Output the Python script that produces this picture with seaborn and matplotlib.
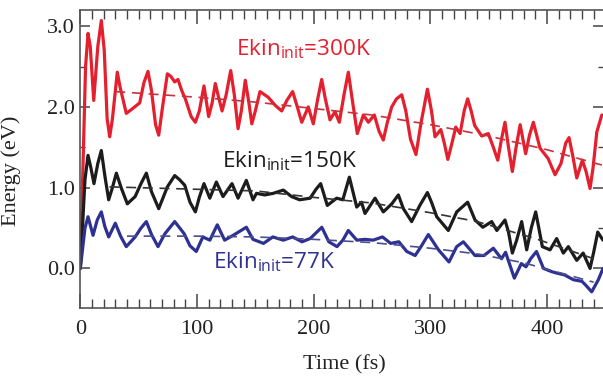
import matplotlib
matplotlib.use("Agg")
import matplotlib.pyplot as plt
import seaborn as sns
from matplotlib.ticker import MultipleLocator, FormatStrFormatter

# energy traces (time in fs, energy in eV)
red_t = [0, 4.5, 6.6, 8.5, 11.5, 15, 18, 20.5, 23, 25.2, 27.5, 31.7, 34, 39.4, 44, 50.9, 54.5,
         58, 61, 64.5, 67.2, 70, 74.6, 77.5, 80.9, 83.7, 87, 90, 95, 98.6, 102, 106, 110, 113,
         115.7, 118.5, 121.5, 125, 128.9, 132, 135.2, 138, 141.4, 144.5, 147, 150, 154, 161,
         167, 172.6, 177, 182, 186, 189.8, 195.4, 199.7, 203.5, 206.9, 210, 214, 218.3, 222,
         226, 229.7, 233.5, 237.4, 242.6, 246.9, 252, 256, 259.7, 263, 266.9, 271, 275.5, 279,
         283, 287.7, 292, 297.5, 301, 304, 309, 312, 315, 318.5, 321.8, 325.5, 329, 332, 335,
         338, 344, 349.7, 354, 357.8, 361, 364, 367, 370.3, 373.5, 377, 381.7, 385, 388.3, 394,
         401, 406.9, 412, 416, 418.9, 422, 425.5, 430.3, 433.5, 436.9, 439.5, 442.7, 447]
red_e = [0, 2.5, 2.91, 2.75, 2.08, 2.75, 3.07, 2.7, 1.85, 1.63, 1.85, 2.43, 2.25, 1.92, 1.97, 2.05, 2.3,
         2.44, 2.2, 1.78, 1.65, 1.95, 2.41, 2.38, 2.31, 2.34, 2.2, 2.1, 1.88, 1.81, 1.95, 2.26, 1.88, 2.05,
         2.29, 2.12, 1.95, 2.15, 2.45, 2.15, 1.73, 1.95, 2.33, 2.05, 1.79, 1.95, 2.19, 2.12,
         2.02, 1.95, 2.08, 2.19, 2.0, 1.81, 2.0, 1.79, 2.1, 2.34, 2.1, 1.84, 1.94, 1.81,
         2.15, 2.43, 2.05, 1.67, 1.9, 1.81, 1.9, 1.7, 1.59, 1.8, 2.0, 2.1, 2.15, 1.95,
         1.6, 1.41, 1.8, 2.22, 1.95, 1.63, 1.72, 1.55, 1.35, 1.55, 1.75, 1.67, 1.95, 2.1, 1.95,
         1.77, 1.64, 1.67, 1.5, 1.34, 1.6, 1.81, 1.5, 1.2, 1.5, 1.78, 1.42, 1.65, 1.81, 1.49,
         1.36, 1.16, 1.3, 1.55, 1.62, 1.4, 1.12, 1.34, 1.2, 0.99, 1.25, 1.69, 1.9]

black_t = [0, 4, 6.6, 9, 11.7, 15, 18, 21, 24.3, 27.5, 30.9, 35, 40.3, 47, 52, 56.6, 61, 67.2,
           74.6, 80.9, 85, 89.5, 94, 98.6, 102, 106, 111, 116.6, 122.3, 130, 135.2, 142.3, 148,
           151, 158, 165.4, 174, 181, 188, 197, 202, 206, 211.7, 219.7, 225, 230.6, 236.9, 241,
           244, 252.6, 259.7, 267, 272.6, 276.9, 284, 291, 297.5, 301, 305.5, 315.4, 322.6, 332,
           338.3, 345, 352.6, 357, 364, 367, 370.3, 374, 378.3, 382.6, 386.5, 390.3, 393, 396,
           402.6, 408.3, 414, 418.3, 425.5, 431, 436.9, 440, 443.5, 448]
black_e = [0, 1.1, 1.40, 1.25, 1.05, 1.3, 1.46, 1.15, 0.85, 1.0, 1.18, 1.0, 0.80, 0.89, 1.05, 1.18, 0.95, 0.74,
           1.01, 1.15, 1.1, 1.03, 0.82, 0.70, 0.88, 1.05, 0.87, 1.07, 0.89, 1.05, 0.87, 1.09, 0.85,
           0.93, 0.91, 0.93, 0.97, 0.89, 0.85, 0.87, 0.98, 1.05, 0.78, 0.87, 0.85, 1.13, 0.76, 0.82,
           0.68, 0.87, 0.70, 0.80, 0.91, 0.74, 0.58, 0.78, 0.94, 0.82, 0.64, 0.47, 0.70, 0.82,
           0.60, 0.51, 0.58, 0.47, 0.60, 0.45, 0.19, 0.35, 0.58, 0.23, 0.5, 0.70, 0.5, 0.27,
           0.23, 0.37, 0.19, 0.27, 0.10, 0.19, 0.0, 0.2, 0.45, 0.35]

blue_t = [0, 4, 6.6, 10.9, 14.5, 18, 21, 24.3, 30, 34.5, 39.4, 47, 52, 56.6, 61, 66.6, 72.5,
          80.9, 89, 94, 99.4, 105, 111, 117.4, 123.7, 131, 142.3, 148, 157, 165, 174, 182, 190,
          197, 207, 213, 220, 225, 229.7, 237, 244, 251, 259, 266, 273, 279.8, 287, 292, 298.3,
          307, 316, 322.6, 328.3, 338.3, 346, 354, 361, 364.5, 368, 372, 378, 382, 386, 391,
          397, 404, 409, 415, 422.6, 430, 434, 438.3, 444, 448]
blue_e = [0, 0.5, 0.64, 0.41, 0.6, 0.70, 0.52, 0.39, 0.56, 0.4, 0.27, 0.39, 0.5, 0.58, 0.42, 0.27, 0.43,
          0.58, 0.43, 0.28, 0.21, 0.39, 0.35, 0.54, 0.35, 0.41, 0.51, 0.36, 0.31, 0.39, 0.35, 0.39, 0.33,
          0.37, 0.51, 0.33, 0.27, 0.35, 0.47, 0.35, 0.36, 0.35, 0.39, 0.31, 0.33, 0.21, 0.16, 0.27, 0.42,
          0.23, 0.08, 0.27, 0.33, 0.16, 0.16, 0.25, 0.12, 0.20, 0.05, -0.12, 0.06, 0.02, 0.12, 0.21,
          0.0, -0.04, -0.06, -0.08, -0.14, -0.16, -0.22, -0.29, -0.14, 0.0]

# dashed trend lines
red_fit_t = [30, 100, 150, 200, 250, 300, 350, 400, 447]
red_fit_e = [2.19, 2.12, 2.06, 1.98, 1.90, 1.78, 1.64, 1.47, 1.28]
black_fit_t = [25, 100, 150, 200, 250, 300, 340, 390, 440]
black_fit_e = [1.01, 0.98, 0.96, 0.88, 0.81, 0.69, 0.58, 0.37, 0.12]
blue_fit_t = [40, 100, 150, 200, 250, 300, 340, 380, 440]
blue_fit_e = [0.40, 0.40, 0.39, 0.36, 0.32, 0.25, 0.18, 0.07, -0.17]

labels = ["300K", "150K", "77K"]

sns.set_style("ticks")
plt.rcParams["font.family"] = ["Liberation Serif", "DejaVu Serif"]
plt.rcParams["mathtext.fontset"] = "custom"
plt.rcParams["mathtext.rm"] = "Open Sans"

red, black, blue = "#e5202e", "#1c1c1c", "#2e3192"

fig = plt.figure(figsize=(6.03, 3.85), dpi=100)
ax = fig.add_axes([0.1332, 0.2, 0.8668, 0.774])

line_kw = dict(lw=2.3, solid_joinstyle="round", solid_capstyle="round", ax=ax)
sns.lineplot(x=red_t, y=red_e, color=red, **line_kw)
sns.lineplot(x=black_t, y=black_e, color=black, **line_kw)
sns.lineplot(x=blue_t, y=blue_e, color=blue, **line_kw)
fit_kw = dict(lw=1.2, ls=(0, (6, 4)), ax=ax)
sns.lineplot(x=red_fit_t, y=red_fit_e, color="#c8323c", **fit_kw)
sns.lineplot(x=black_fit_t, y=black_fit_e, color="#333333", **fit_kw)
sns.lineplot(x=blue_fit_t, y=blue_fit_e, color="#4a4f8f", **fit_kw)

lab_font = dict(family="Open Sans", fontsize=16.2)
ax.text(133.5, 2.64, "Ekin$_{\\mathrm{init}}$=" + labels[0], color=red, **lab_font)
ax.text(121.5, 1.25, "Ekin$_{\\mathrm{init}}$=" + labels[1], color=black, **lab_font)
ax.text(113.7, 0.0, "Ekin$_{\\mathrm{init}}$=" + labels[2], color=blue, **lab_font)

ax.set_xlim(0, 448)
ax.set_ylim(-0.49, 3.2)
ax.xaxis.set_major_locator(MultipleLocator(100))
ax.xaxis.set_minor_locator(MultipleLocator(10))
ax.yaxis.set_major_locator(MultipleLocator(1.0))
ax.yaxis.set_minor_locator(MultipleLocator(0.5))
ax.yaxis.set_major_formatter(FormatStrFormatter("%.1f"))
ax.tick_params(which="both", direction="in", top=True, right=True, color="#444444")
ax.tick_params(axis="x", which="major", length=10, width=1.1, pad=9, labelsize=16, labelcolor="#222222")
ax.tick_params(axis="x", which="minor", length=6.5, width=1.0)
ax.tick_params(axis="y", which="major", length=7, width=1.1, pad=4, labelsize=16, labelcolor="#222222")
ax.tick_params(axis="y", which="minor", length=3.5, width=1.0)
for side in ["left", "bottom", "top"]:
    ax.spines[side].set_color("#555555")
    ax.spines[side].set_linewidth(1.2)
ax.spines["right"].set_visible(False)

ax.set_xlabel("Time (fs)", fontsize=16, color="#222222")
ax.set_ylabel("Energy (eV)", fontsize=16, color="#222222")
ax.xaxis.set_label_coords(0.506, -0.158)
ax.yaxis.set_label_coords(-0.113, 0.46)

fig.savefig("out.png", dpi=100)
